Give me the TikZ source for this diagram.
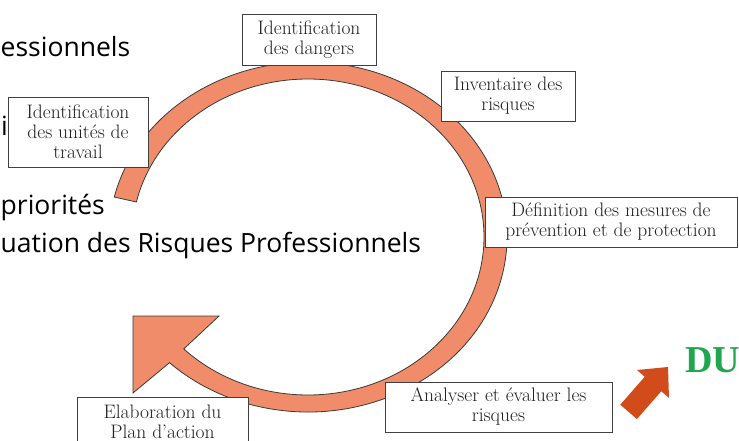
\documentclass[tikz,border=0pt]{standalone}
\usepackage{fontspec}
\usetikzlibrary{calc}
\newfontfamily\bgfont{Open Sans}
\newfontfamily\dufont{Liberation Serif}
\definecolor{ringc}{HTML}{F08C6A}
\definecolor{ringline}{HTML}{3A3A3A}
\definecolor{boxline}{HTML}{404040}
\definecolor{boxtext}{HTML}{202020}
\definecolor{arrowc}{HTML}{D24B1A}
\definecolor{duc}{HTML}{1FA64F}
\tikzset{
  box/.style={draw=boxline, fill=white, line width=0.8pt, text=boxtext,
    font=\fontsize{19.5}{20}\selectfont, align=center, inner sep=0pt},
  bgtext/.style={inner sep=0pt, text=black, font=\bgfont\fontsize{26.5}{30}\selectfont}
}
\begin{document}
\begin{tikzpicture}[x=1pt,y=1pt]
\useasboundingbox (0,0) rectangle (739,-441);
\clip (0,0) rectangle (739,-441);
\fill[white] (0,0) rectangle (739,-441);
% background slide text
\node[bgtext, anchor=base west] (t1) at (0.5,-57) {essionnels};
\node[bgtext, anchor=base west] (t2) at (1,-136) {i};
\node[bgtext, anchor=base west] (t3) at (0.5,-214) {priorités};
\node[bgtext, anchor=base west] (t4) at (0.5,-252) {uation des Risques Professionnels};
% circular arrow
\coordinate (C) at (308,-237);
\filldraw[fill=ringc, draw=ringline, line width=0.8pt, line join=miter]
  ($(C)+(166.8:199 and 175)$)
  arc[start angle=166.8, end angle=-134.1, x radius=199, y radius=175]
  -- (133,-393) -- (133,-316) -- (219,-316)
  -- ($(C)+(-134.9:176 and 158)$)
  arc[start angle=-134.9, end angle=167.2, x radius=176, y radius=158]
  -- cycle;
% boxes
\node[box, minimum width=134pt, minimum height=51pt] (b1) at (309,-39.5) {Identification\\des dangers};
\node[box, minimum width=134pt, minimum height=50pt] (b2) at (508,-96) {Inventaire des\\risques};
\node[box, minimum width=140pt, minimum height=70pt] (b3) at (78,-132) {Identification\\des unités de\\travail};
\node[box, minimum width=252pt, minimum height=50pt] (b4) at (611,-222) {Définition des mesures de\\prévention et de protection};
\node[box, minimum width=227pt, minimum height=50pt] (b5) at (498.5,-407) {Analyser et évaluer les\\risques};
\node[box, minimum width=171pt, minimum height=50pt] (b6) at (162.5,-422) {Elaboration du\\Plan d’action};
% red arrow
\fill[arrowc] (668,-367) -- (637,-370) -- (644.7,-376.8) -- (620.3,-404.7)
  -- (636.9,-419.1) -- (661.3,-391.2) -- (669,-398) -- cycle;
% DU
\node[anchor=base west, inner sep=0pt, text=duc, font=\dufont\bfseries\fontsize{38}{40}\selectfont] (du) at (685,-372) {DU};
\end{tikzpicture}
\end{document}
